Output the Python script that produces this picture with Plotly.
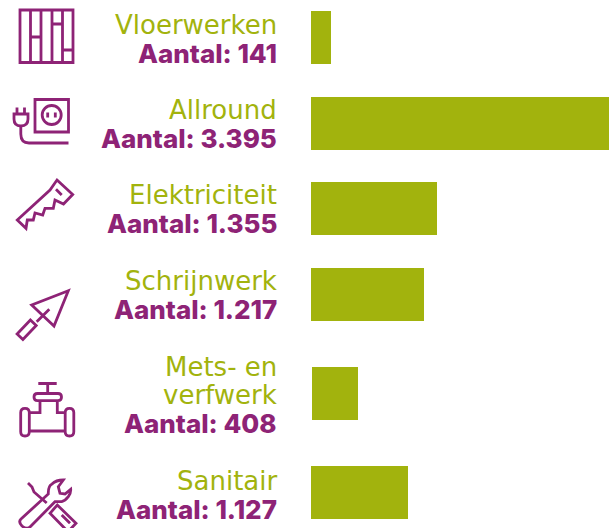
import plotly.graph_objects as go

# ---- data ----
category_lines = [["Vloerwerken"], ["Allround"], ["Elektriciteit"], ["Schrijnwerk"], ["Mets- en", "verfwerk"], ["Sanitair"]]
counts = ["141", "3.395", "1.355", "1.217", "408", "1.127"]
# the reference's bars are not proportional to the printed counts; these are the lengths as drawn
drawn_lengths = [228, 3395, 1435, 1287, 524, 1105]

# ---- layout ----
GREEN = "#A2B30D"
PURPLE = "#8E2376"
W, H = 609, 528
BAR_LEFT = 311
row_y = [37.5, 123.5, 208.5, 294.5, 393.5, 492.5]
bar_start = [0, 0, 0, 0, 11, 0]
label_y = [[25], [110], [195], [281], [367, 395], [481]]
count_y = [53, 138, 223, 309, 423, 509]
TEXT_RIGHT = 279
units_per_px = max(drawn_lengths) / (W - BAR_LEFT)

fig = go.Figure(go.Bar(
    y=row_y, x=drawn_lengths, base=bar_start, orientation="h", width=53,
    marker=dict(color=GREEN, line_width=0), hoverinfo="skip", xaxis="x", yaxis="y",
))
fig.add_trace(go.Scatter(x=[0, W], y=[0, H], mode="markers", marker_opacity=0,
                         xaxis="x2", yaxis="y", hoverinfo="skip", showlegend=False))

annos = []
for lines, ys, c, cy in zip(category_lines, label_y, counts, count_y):
    for t, y in zip(lines, ys):
        annos.append(dict(text=t, x=TEXT_RIGHT, y=y, xref="x2", yref="y", xanchor="right", yanchor="middle",
                          showarrow=False, font=dict(family="DejaVu Sans", size=26, color=GREEN, weight=400)))
    annos.append(dict(text="Aantal: " + c, x=TEXT_RIGHT, y=cy, xref="x2", yref="y", xanchor="right", yanchor="middle",
                      showarrow=False, font=dict(family="Inter", size=26, color=PURPLE, weight=800)))

# ---- decorative icons (pixel space) ----
def ring(cx, cy, r):
    k = 0.5523 * r
    return (f"M{cx+r},{cy} C{cx+r},{cy+k} {cx+k},{cy+r} {cx},{cy+r} C{cx-k},{cy+r} {cx-r},{cy+k} {cx-r},{cy} "
            f"C{cx-r},{cy-k} {cx-k},{cy-r} {cx},{cy-r} C{cx+k},{cy-r} {cx+r},{cy-k} {cx+r},{cy} Z")

icons = [
    "M20,10 H73 V62.5 H20 Z M30.5,10 V62.5 M41,10 V62.5 M52,10 V62.5 M62.5,10 V62.5 M30.5,37 H41 M52,24 H62.5 M62.5,50 H73",
    "M35,99.5 H68.5 V132 H35 Z " + ring(51.7, 115, 9.5),
    "M47.7,112.5 V117.5 M55.3,112.5 V117.5 M17,107.5 V114 M24.5,107.5 V114 M14,114 H28 V119 Q28,126 20.8,126 Q14,126 14,119 Z M20.8,126 V134 Q20.8,143 29,143 H68.5",
    "M57,180 L72.7,194.5 L63.5,204 L55,200 L53.3,208.3 L45,208.3 L42.7,215 L35,213 L33.3,220 L27.3,220 L26,228.3 L17.3,220 L50,190 Z M56,189.3 L61.7,195",
    "M68.3,290.7 L31.7,305 L54,326 Z M49.3,309.3 L36.7,321.7 M36.2,325.5 L22.9,339.5 L17.1,334 L30.4,320 Z",
    "M38.3,383.5 H56.7 M47.7,383.5 V393.5 M37.5,393.5 H58 Q61.5,393.5 61.5,397 Q61.5,400.7 58,400.7 H37.5 Q34,400.7 34,397 Q34,393.5 37.5,393.5 Z "
    "M40,400.7 V412.7 H29.7 M57.3,400.7 V412.7 H65 M29.7,431 H65 "
    "M25,408.3 Q29.3,408.3 29.3,412.6 V431.7 Q29.3,436 25,436 Q20.7,436 20.7,431.7 V412.6 Q20.7,408.3 25,408.3 Z "
    "M69.5,408.3 Q73.8,408.3 73.8,412.6 V431.7 Q73.8,436 69.5,436 Q65.2,436 65.2,431.7 V412.6 Q65.2,408.3 69.5,408.3 Z",
    "M48.3,494 Q48,486 52,484 Q56,480 63.3,480 L58.3,486.7 L60,493.3 L65,494 L70.7,489.3 Q71,493 68.3,496.7 Q65,501 61.7,501.7 L55,501.7 L30,527 Q27,530 22,526 Q18,522 21,519 Z",
    "M28,483 L32,487 L34,492 L46.7,503 M50,513.3 L57.3,505 L76,523.3 L68,531.7 Z M61.7,515 L70,523.3",
]
shapes = [dict(type="path", path=p, xref="x2", yref="y", layer="above",
               line=dict(color=PURPLE, width=2.8), fillcolor="rgba(0,0,0,0)") for p in icons]

fig.update_layout(
    width=W, height=H, margin=dict(l=0, r=0, t=0, b=0, pad=0),
    paper_bgcolor="white", plot_bgcolor="white", showlegend=False, bargap=0,
    xaxis=dict(domain=[0, 1], range=[-BAR_LEFT * units_per_px, max(drawn_lengths)], visible=False, fixedrange=True),
    xaxis2=dict(range=[0, W], visible=False, overlaying="x", anchor="y", fixedrange=True),
    yaxis=dict(domain=[0, 1], range=[H, 0], visible=False, fixedrange=True),
    annotations=annos, shapes=shapes,
)
fig.write_html("out.html", config=dict(displayModeBar=False),
               post_script="document.body.style.margin='0';")
